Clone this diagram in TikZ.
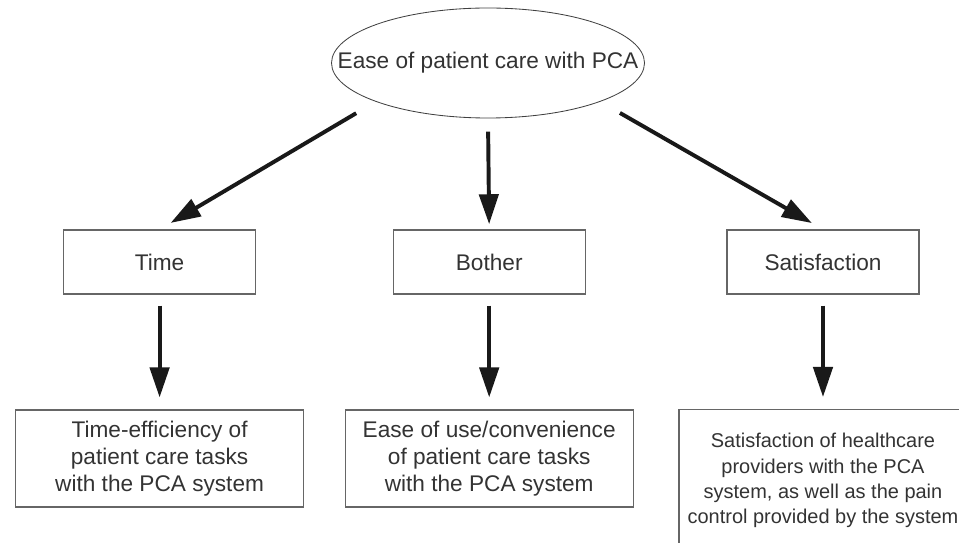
\documentclass[tikz,border=0pt]{standalone}
\usepackage{fontspec}
\setmainfont{Liberation Sans}
\usetikzlibrary{shapes.geometric,arrows.meta}

\begin{document}
\begin{tikzpicture}[
  txt/.style={text=black!80,font=\fontsize{16.1}{19.4}\selectfont},
  catbox/.style={txt,draw=black!60,line width=0.8pt,minimum width=4.8cm,minimum height=1.6cm,inner sep=0pt},
  descbox/.style={txt,draw=black!60,line width=0.8pt,minimum width=7.2cm,minimum height=2.425cm,align=center,inner sep=0pt},
  arr/.style={draw=black!90,line width=2.8pt,-{Triangle[length=0.75cm,width=0.48cm]}}
]
\useasboundingbox (0,0) rectangle (23.975,-13.575);
\clip (0,0) rectangle (23.975,-13.575);

% top
\node[txt,ellipse,draw=black!75,line width=0.6pt,minimum width=7.825cm,minimum height=2.75cm,inner sep=0pt] (ease) at (12.2,-1.575) {\makebox[0pt]{Ease of patient care with PCA}};

% middle row
\node[catbox] (time) at (3.99,-6.55) {Time};
\node[catbox] (bother) at (12.23,-6.55) {Bother};
\node[catbox] (satis) at (20.575,-6.55) {Satisfaction};

% bottom row
\node[descbox] (timeeff) at (3.99,-11.4625) {Time-efficiency of\\patient care tasks\\with the PCA system};
\node[descbox] (easeuse) at (12.23,-11.4625) {Ease of use/convenience\\of patient care tasks\\with the PCA system};
\node[descbox,font=\fontsize{14.2}{18.1}\selectfont,minimum height=3.55cm,anchor=north] (satisprov) at (20.575,-10.225) {Satisfaction of healthcare\\providers with the PCA\\system, as well as the pain\\control provided by the system};

\draw[arr,shorten <=0.565cm,shorten >=0.32cm] (ease.199) -- (time.north);
\draw[arr,shorten <=0.33cm,shorten >=0.13cm] (ease.south) -- (bother.north);
\draw[arr,shorten <=0.565cm,shorten >=0.32cm] (ease.341) -- (satis.north);

\draw[arr,shorten <=0.275cm,shorten >=0.3cm] (time.south) -- (timeeff.north);
\draw[arr,shorten <=0.275cm,shorten >=0.3cm] (bother.south) -- (easeuse.north);
\draw[arr,shorten <=0.275cm,shorten >=0.3cm] (satis.south) -- (satisprov.north);
\end{tikzpicture}
\end{document}
